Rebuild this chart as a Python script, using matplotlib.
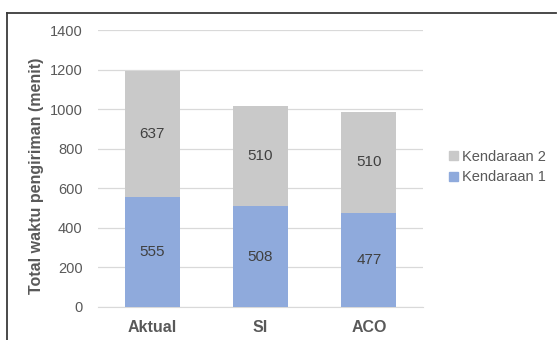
import matplotlib
matplotlib.use("Agg")
import matplotlib.pyplot as plt
from matplotlib.lines import Line2D
from matplotlib.patches import Patch

categories = ["Aktual", "SI", "ACO"]
kendaraan1 = [555, 508, 477]
kendaraan2 = [637, 510, 510]
yticks = [0, 200, 400, 600, 800, 1000, 1200, 1400]

plt.rcParams['font.family'] = ['Liberation Sans', 'DejaVu Sans']
W, H = 557, 340
fig = plt.figure(figsize=(W/100, H/100), dpi=100)
ax = fig.add_axes([98/W, 1-307/H, (423-98)/W, (307-30)/H])

c1 = "#8FAADC"
c2 = "#C9C9C9"
txt = "#595959"
x = range(len(categories))
ax.bar(x, kendaraan1, width=0.51, color=c1, zorder=3, label="Kendaraan 1")
ax.bar(x, kendaraan2, width=0.51, bottom=kendaraan1, color=c2, zorder=3, label="Kendaraan 2")
for i in x:
    ax.text(i, kendaraan1[i]/2, str(kendaraan1[i]), ha='center', va='center', fontsize=11, color="#404040", zorder=4)
    ax.text(i, kendaraan1[i] + kendaraan2[i]/2, str(kendaraan2[i]), ha='center', va='center', fontsize=11, color="#404040", zorder=4)

ax.set_xlim(-0.5, 2.5)
ax.set_ylim(0, 1400)
ax.set_yticks(yticks)
ax.set_xticks(list(x))
ax.set_xticklabels(categories, fontweight='bold', fontsize=11.5, color=txt)
ax.tick_params(axis='y', labelsize=10.5, labelcolor=txt, length=0, pad=11)
ax.tick_params(axis='x', length=0, pad=9)
ax.yaxis.grid(True, color="#D9D9D9", linewidth=0.9, zorder=0)
ax.set_axisbelow(True)
for s in ['top', 'right', 'left']:
    ax.spines[s].set_visible(False)
ax.spines['bottom'].set_color("#D9D9D9")
ax.set_ylabel("Total waktu pengiriman (menit)", fontweight='bold', fontsize=11.5, color=txt)
ax.yaxis.set_label_coords((37-98)/325, (307-176)/277)
ax.yaxis.label.set_va('center')

handles = [Patch(color=c2, label="Kendaraan 2"), Patch(color=c1, label="Kendaraan 1")]
fig.legend(handles=handles, loc='center left', bbox_to_anchor=(436/W, 1-167/H), frameon=False,
           fontsize=10.5, labelcolor=txt, handlelength=0.6, handleheight=0.6, handletextpad=0.3,
           labelspacing=0.45)

fig.add_artist(Line2D([7/W, 7/W], [0, 1-13/H], transform=fig.transFigure, color="#3a3a3a", lw=1.3))
fig.add_artist(Line2D([7/W, 556/W], [1-13/H, 1-13/H], transform=fig.transFigure, color="#3a3a3a", lw=1.3))

fig.savefig("out.png", dpi=100)
